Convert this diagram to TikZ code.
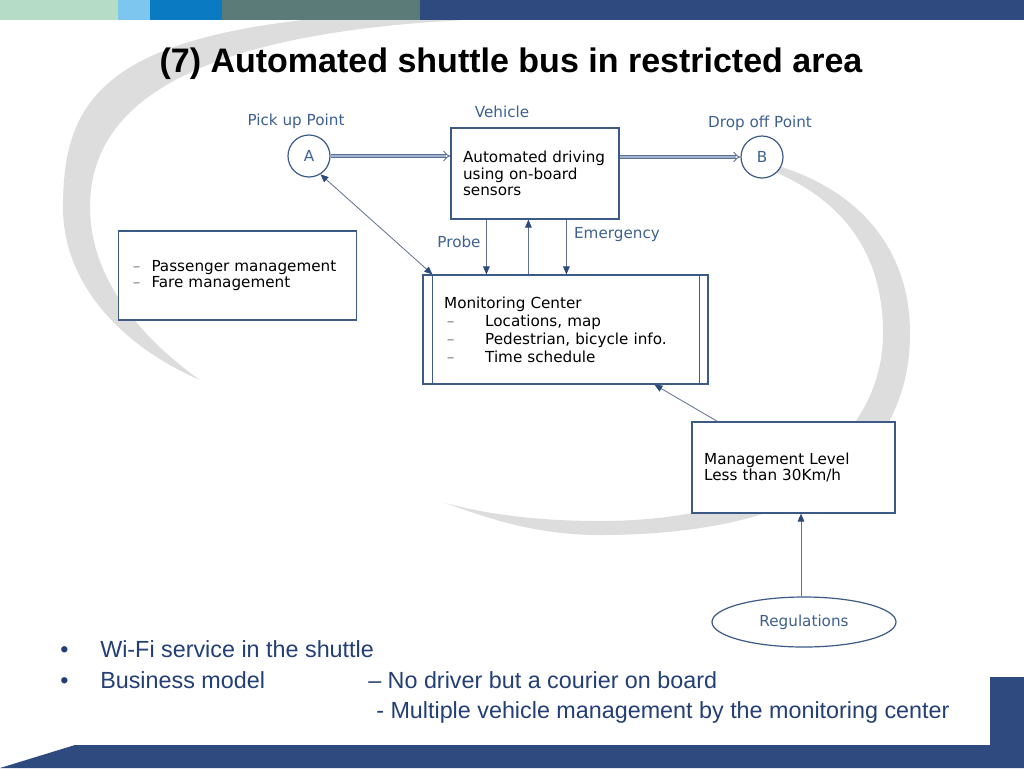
\documentclass[tikz,border=0pt]{standalone}
\usepackage{fontspec}
\setmainfont{DejaVu Sans}
\newfontfamily\slidefont{Liberation Sans}
\usetikzlibrary{arrows.meta,shapes.geometric,positioning}

\definecolor{barmint}{HTML}{B5DCC7}
\definecolor{barsky}{HTML}{7DC6EF}
\definecolor{barblue}{HTML}{0A7AC2}
\definecolor{barslate}{HTML}{5B7B78}
\definecolor{navy}{HTML}{2E4A7E}
\definecolor{swooshgray}{HTML}{DDDDDD}
\definecolor{boxblue}{HTML}{3D5A87}
\definecolor{labelblue}{HTML}{3F6190}
\definecolor{linkgray}{HTML}{5F7090}
\definecolor{tipblue}{HTML}{2C4A7C}
\definecolor{dblfill}{HTML}{9FB3D3}
\definecolor{bottomtxt}{HTML}{233F75}

\begin{document}
\begin{tikzpicture}[x=0.75pt,y=-0.75pt,
    box/.style={draw=boxblue,fill=white,line width=0.9pt,rectangle,align=left,
      font=\fontsize{11.4}{12.6}\selectfont,text=black},
    stop/.style={draw=boxblue,fill=white,line width=0.9pt,circle,minimum size=31.5pt,
      inner sep=0pt,font=\fontsize{11.4}{12.6}\selectfont,text=labelblue},
    tag/.style={font=\fontsize{11.4}{12.6}\selectfont,text=labelblue,inner sep=0pt},
    link/.style={draw=linkgray,line width=0.6pt,-{Triangle[length=6pt,width=5pt,color=tipblue]}},
    twolink/.style={draw=linkgray,line width=0.6pt,{Triangle[length=6pt,width=5pt,color=tipblue]}-{Triangle[length=6pt,width=5pt,color=tipblue]}},
    route/.style={draw=linkgray,line width=0.7pt,double=dblfill,double distance=2pt,-{Implies}},
    bullettxt/.style={font=\slidefont\fontsize{17.5}{20}\selectfont,text=bottomtxt,anchor=base west,inner sep=0pt}]
        %% Page and frame
        \fill[white] (0,0) rectangle (1024,768);
        \useasboundingbox (0,0) rectangle (1024,768);
        %% Background swoosh
        \fill[swooshgray] (520,10) .. controls (120,10) and (63,80) .. (63,207)
            .. controls (63,290) and (130,350) .. (200,380)
            .. controls (130,330) and (90,270) .. (90,207)
            .. controls (90,100) and (200,25) .. (520,18) -- cycle;
        \fill[swooshgray] (775,165) .. controls (860,190) and (910,250) .. (910,333)
            .. controls (910,464) and (801,535) .. (600,535)
            .. controls (530,535) and (480,515) .. (445,503)
            .. controls (490,515) and (540,521) .. (600,521)
            .. controls (780,521) and (883,440) .. (883,333)
            .. controls (883,250) and (840,200) .. (775,172) -- cycle;
        %% Top bar
        \fill[barmint] (0,0) rectangle (118,20);
        \fill[barsky] (118,0) rectangle (150,20);
        \fill[barblue] (150,0) rectangle (222,20);
        \fill[barslate] (222,0) rectangle (420,20);
        \fill[navy] (420,0) rectangle (1024,20);
        %% Bottom band
        \fill[navy] (0,768) -- (75,745) -- (990,745) -- (990,677) -- (1024,677) -- (1024,768) -- cycle;
        %% Title
        \node[font=\slidefont\bfseries\fontsize{25.5}{28}\selectfont,anchor=base,inner sep=0pt] (title) at (511,72) {(7) Automated shuttle bus in restricted area};
        %% Stops and vehicle
        \node[stop] (A) at (309,156) {A};
        \node[stop] (B) at (762,157) {B};
        \node[box,minimum width=126pt,minimum height=68.25pt,text width=108pt,inner xsep=9pt] (veh) at (535,173.5)
            {Automated driving\\using on-board\\sensors};
        \node[tag] (pickup) at (296,121) {Pick up Point};
        \node[tag] (vehlabel) at (502,112) {Vehicle};
        \node[tag] (dropoff) at (760,123) {Drop off Point};
        %% Boxes
        \node[box,minimum width=177.75pt,minimum height=66.75pt,text width=157pt,inner xsep=10.5pt] (fare) at (237.5,275.5)
            {\makebox[14pt][l]{\color{gray}--}Passenger management\\\makebox[14pt][l]{\color{gray}--}Fare management};
        \node[box,minimum width=213.75pt,minimum height=81.75pt,text width=182pt,inner xsep=15.75pt,
            font=\fontsize{11.4}{13.5}\selectfont] (mon) at (565.5,329.5)
            {Monitoring Center\\\makebox[30.75pt][l]{\hspace{2pt}\color{gray}--}Locations, map\\
             \makebox[30.75pt][l]{\hspace{2pt}\color{gray}--}Pedestrian, bicycle info.\\
             \makebox[30.75pt][l]{\hspace{2pt}\color{gray}--}Time schedule};
        \draw[boxblue,line width=0.9pt] ([xshift=7.5pt]mon.north west) -- ([xshift=7.5pt]mon.south west);
        \draw[boxblue,line width=0.9pt] ([xshift=-6.75pt]mon.north east) -- ([xshift=-6.75pt]mon.south east);
        \node[box,minimum width=152.25pt,minimum height=68.25pt,text width=134pt,inner xsep=9pt] (mgmt) at (793.5,467.5)
            {Management Level\\Less than 30Km/h};
        \node[draw=boxblue,fill=white,line width=0.9pt,ellipse,minimum width=138pt,minimum height=37.5pt,
            font=\fontsize{11.4}{12.6}\selectfont,text=labelblue] (reg) at (804,622) {Regulations};
        %% Routes
        \draw[route] (A.east) -- (A.east -| veh.west);
        \draw[route] (veh.east |- B.west) -- (B.west);
        %% Links
        \draw[twolink] (A.-58) -- ([xshift=7.5pt]mon.north west);
        \draw[link] ([xshift=27pt]veh.south west) -- ([xshift=27pt]veh.south west |- mon.north);
        \draw[link] ([xshift=58.5pt]veh.south west |- mon.north) -- ([xshift=58.5pt]veh.south west);
        \draw[link] ([xshift=87pt]veh.south west) -- ([xshift=87pt]veh.south west |- mon.north);
        \node[tag] (probe) at (459,242) {Probe};
        \node[tag] (emerg) at (617,235) {Emergency};
        \draw[link] ([xshift=19.5pt]mgmt.north west) -- ([xshift=174pt]mon.south west);
        \draw[link] ([xshift=-2.25pt]reg.north) -- ([xshift=-2.25pt]reg.north |- mgmt.south);
        %% Bullets
        \node[bullettxt] (dot1) at (60,657) {\textbullet};
        \node[bullettxt] (wifi) at (100,657) {Wi-Fi service in the shuttle};
        \node[bullettxt] (dot2) at (60,688) {\textbullet};
        \node[bullettxt] (biz) at (100,688) {Business model};
        \node[bullettxt] (nodriver) at (368,688) {– No driver but a courier on board};
        \node[bullettxt] (multi) at (376,718) {- Multiple vehicle management by the monitoring center};
\end{tikzpicture}
\end{document}
